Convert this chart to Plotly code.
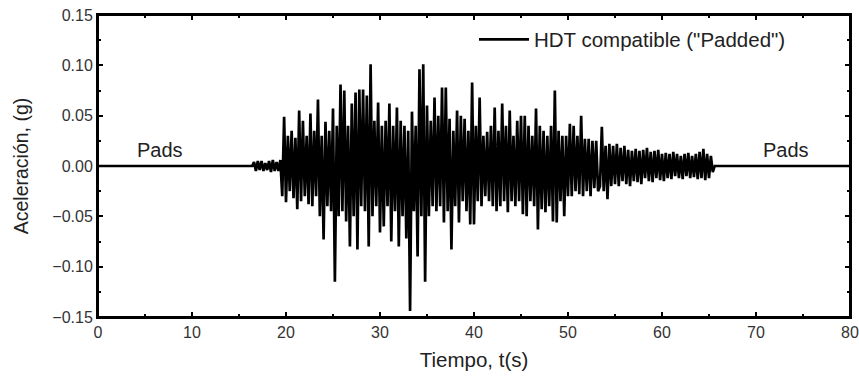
import numpy as np
import plotly.graph_objects as go

# Pads (zero acceleration) segments
pad_start = [0.0, 16.2]
pad_end = [65.8, 80.0]

# weak onset, 16.4 s .. 19.2 s, step 0.2 s
t_weak0 = 16.4
a_weak = [0.000, 0.004, -0.005, 0.005, -0.004, 0.005, -0.005, 0.003,
          -0.004, 0.005, -0.006, 0.006, -0.005, 0.004, -0.005]

# strong motion, 19.4 s .. 65.6 s, step 0.2 s
t_strong0 = 19.4
a_strong = [
    0.006, -0.030, 0.049,                          # 19.4-19.8
    -0.036, 0.030, -0.025, 0.035, -0.032,          # 20
    0.028, -0.043, 0.055, -0.035, 0.045,           # 21
    -0.030, 0.030, -0.038, 0.052, -0.040,          # 22
    0.035, -0.030, 0.066, -0.050, 0.030,           # 23
    -0.073, 0.044, -0.040, 0.035, -0.045,          # 24
    0.057, -0.115, 0.040, -0.050, 0.081,           # 25
    -0.045, 0.075, -0.055, 0.040, -0.080,          # 26
    0.062, -0.050, 0.073, -0.083, 0.076,           # 27
    -0.040, 0.076, -0.045, 0.070, -0.080,          # 28
    0.101, -0.050, 0.045, -0.040, 0.063,           # 29
    -0.066, 0.040, -0.060, 0.045, -0.040,          # 30
    0.062, -0.075, 0.040, -0.045, 0.058,           # 31
    -0.080, 0.045, -0.050, 0.040, -0.072,          # 32
    0.035, -0.144, 0.054, -0.045, 0.040,           # 33
    -0.090, 0.096, -0.050, 0.101, -0.115,          # 34
    0.060, -0.050, 0.045, -0.040, 0.068,           # 35
    -0.045, 0.050, -0.040, 0.078, -0.056,          # 36
    0.078, -0.045, 0.047, -0.083, 0.035,           # 37
    -0.040, 0.055, -0.056, 0.050, -0.035,          # 38
    0.047, -0.045, 0.035, -0.058, 0.083,           # 39
    -0.058, 0.040, -0.035, 0.068, -0.040,          # 40
    0.030, -0.030, 0.034, -0.035, 0.040,           # 41
    -0.040, 0.058, -0.045, 0.035, -0.040,          # 42
    0.062, -0.035, 0.040, -0.046, 0.055,           # 43
    -0.035, 0.030, -0.040, 0.045, -0.035,          # 44
    0.050, -0.048, 0.050, -0.050, 0.040,           # 45
    -0.035, 0.030, -0.040, 0.057, -0.063,          # 46
    0.040, -0.043, 0.035, -0.046, 0.030,           # 47
    -0.040, 0.040, -0.055, 0.075, -0.056,          # 48
    0.035, -0.035, 0.030, -0.050, 0.030,           # 49
    -0.030, 0.042, -0.030, 0.040, -0.025,          # 50
    0.030, -0.028, 0.050, -0.030, 0.027,           # 51
    -0.025, 0.027, -0.030, 0.025, -0.022,          # 52
    0.025, -0.025, -0.020, 0.039, -0.025,          # 53
    0.020, -0.033, 0.022, -0.020, 0.020,           # 54
    -0.018, 0.022, -0.020, 0.018, -0.015,          # 55
    0.020, -0.018, 0.016, -0.020, 0.015,           # 56
    -0.015, 0.017, -0.016, 0.015, -0.018,          # 57
    0.016, -0.012, 0.018, -0.015, 0.014,           # 58
    -0.016, 0.015, -0.012, 0.016, -0.014,          # 59
    0.012, -0.015, 0.013, -0.012, 0.012,           # 60
    -0.013, 0.014, -0.010, 0.012, -0.012,          # 61
    0.010, -0.013, 0.012, -0.010, 0.013,           # 62
    -0.012, 0.010, -0.011, 0.012, -0.013,          # 63
    0.014, -0.012, 0.017, -0.014, 0.012,           # 64
    -0.012, 0.010, -0.006, 0.000,                  # 65.0-65.6
]

x_ticks = [0, 10, 20, 30, 40, 50, 60, 70, 80]
y_ticks = [-0.15, -0.10, -0.05, 0.00, 0.05, 0.10, 0.15]

t_weak = np.round(t_weak0 + 0.2 * np.arange(len(a_weak)), 2)
t_str = np.round(t_strong0 + 0.2 * np.arange(len(a_strong)), 2)

t = np.concatenate([pad_start, t_weak, t_str, pad_end])
a = np.concatenate([[0, 0], a_weak, a_strong, [0, 0]])

FONT = "Liberation Sans, Arial, sans-serif"

fig = go.Figure()
fig.add_trace(go.Scatter(x=t, y=a, mode="lines",
                         line=dict(color="black", width=2.7),
                         name='HDT compatible ("Padded")'))

fig.add_annotation(x=6.6, y=0.016, text="Pads", showarrow=False,
                   font=dict(family=FONT, size=20, color="#222"))
fig.add_annotation(x=73.2, y=0.016, text="Pads", showarrow=False,
                   font=dict(family=FONT, size=20, color="#222"))

# plot frame (top and right edges)
fig.add_shape(type="rect", xref="paper", yref="paper", x0=0, y0=0, x1=1, y1=1,
              line=dict(color="black", width=2), layer="above")

axis_common = dict(showline=True, linecolor="black", linewidth=2,
                   mirror="allticks", ticks="inside", ticklen=5,
                   tickwidth=1.5, tickcolor="black", showgrid=False,
                   zeroline=False, automargin=False,
                   tickfont=dict(family=FONT, size=16, color="#333"))

fig.update_xaxes(range=[0, 80], tickvals=x_ticks,
                 minor=dict(ticks="inside", dtick=5, ticklen=3, tickcolor="black"),
                 title=dict(text="Tiempo, t(s)", font=dict(family=FONT, size=20.5, color="#222"),
                            standoff=12),
                 **axis_common)
fig.update_yaxes(range=[-0.15, 0.15], tickvals=y_ticks, tickformat=".2f",
                 minor=dict(ticks="inside", dtick=0.025, ticklen=3, tickcolor="black"),
                 title=dict(text="Aceleración, (g)", font=dict(family=FONT, size=19.5, color="#222"),
                            standoff=18),
                 **axis_common)

fig.update_layout(width=859, height=378,
                  margin=dict(l=98, r=9, t=15, b=61),
                  paper_bgcolor="white", plot_bgcolor="white",
                  showlegend=True,
                  legend=dict(x=0.5, y=0.985, xanchor="left", yanchor="top",
                              bgcolor="rgba(0,0,0,0)", itemwidth=50,
                              font=dict(family=FONT, size=20.5, color="#222")),
                  font=dict(family=FONT))

# remove the default 8 px page margin so the figure fills the window exactly
fig.write_html("out.html",
               config={"displayModeBar": False},
               post_script="document.body.style.margin='0';document.body.style.overflow='hidden';")
